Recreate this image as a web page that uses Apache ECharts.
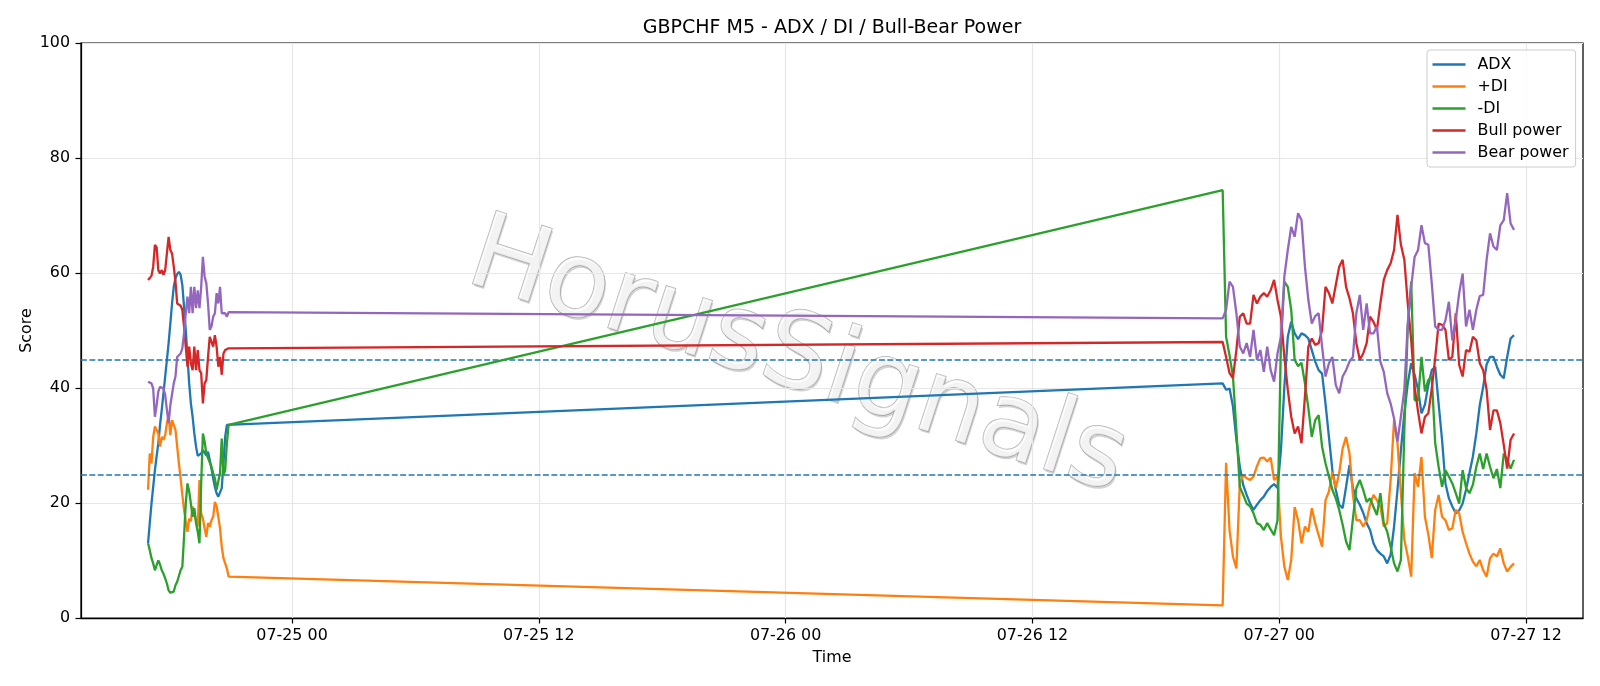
<!DOCTYPE html>
<html>
<head>
<meta charset="utf-8">
<script src="https://cdn.jsdelivr.net/npm/echarts@6/dist/echarts.min.js"></script>
<style>
html,body{margin:0;padding:0;background:#fff;}
#chart{width:1600px;height:686px;}
</style>
</head>
<body>
<div id="chart"></div>
<script>
// ---------------- data ----------------
const YEAR = 2025;
const SERIES_NAMES = ['ADX', '+DI', '-DI', 'Bull power', 'Bear power'];
const X_TICK_LABELS = ['07-25 00', '07-25 12', '07-26 00', '07-26 12', '07-27 00', '07-27 12'];
const Y_TICKS = [0, 20, 40, 60, 80, 100];
const THRESHOLDS = [45, 25];

// session 1: 07-24 17:00, 5-minute bars
const SEG1_START = '07-24 17:00';
const SEG1_STEP_MIN = 5;
// session 2: 07-26 21:15, read every 10 minutes
const SEG2_START = '07-26 21:15';
const SEG2_STEP_MIN = 10;

const ADX_1 = [13, 16.5, 19.9, 22.8, 25.7, 28.1, 30.4, 33.6, 36.2, 39.1, 42, 44.9, 47.8, 51.2, 54.7, 57.6, 59.1, 59.8, 60.2, 59.7, 57.9, 54.1, 50.1, 45.4, 40.8, 37.3, 35, 32.1, 29.8, 28.2, 28.1, 28.6, 29.2, 29.2, 28.3, 28.9, 27.5, 26, 24.3, 22.8, 21.7, 21.1, 20.8, 22.6, 26.9, 31.5, 33.6, 33.9];
const PDI_1 = [22.3, 28.6, 26.9, 31.5, 33.3, 33, 32.1, 29.8, 31.5, 31, 31.8, 33.9, 35.3, 31.8, 34.4, 34.7, 32.7, 29.8, 26.9, 24.3, 21.4, 18.8, 16.8, 15, 17.3, 16.8, 19.4, 19.7, 17, 15.9, 24, 18.2, 17.3, 15.6, 14.1, 16.5, 15.9, 17, 17.6, 20.2, 19.4, 17.6, 15.6, 12.4, 10.4, 9.5, 8.6, 7.2];
const MDI_1 = [13, 11.8, 10.4, 9.5, 8.3, 9.2, 10, 9.3, 8.3, 7.7, 6.9, 6, 4.8, 4.4, 4.2, 4.6, 5.7, 6.3, 6.6, 8.3, 8.9, 14.1, 19.9, 23.4, 22, 19.9, 17.6, 19.1, 16.5, 15, 13, 23.4, 32.1, 30.7, 28.6, 27.8, 28.1, 26.3, 25.2, 24.3, 22.3, 22.5, 25.2, 31.2, 24.9, 25.7, 30.4, 33.6];
const BULL_1 = [58.8, 59.1, 59.5, 61.1, 64.9, 64.5, 60.5, 59.9, 60.5, 59.7, 60.5, 63.4, 66.3, 64, 63.4, 61.1, 58.5, 54.7, 54.4, 54.3, 53.6, 50.7, 47.2, 43.7, 47.2, 44.3, 43.1, 47.2, 43.1, 46.6, 43.1, 42.6, 37.3, 40.8, 41.4, 45.4, 48.9, 49.2, 47.2, 49.2, 47.2, 43.7, 45.4, 42.3, 46, 46.6, 46.6, 46.9];
const BEAR_1 = [41.1, 40.9, 40.8, 39.9, 35, 37, 39.4, 40.2, 40.1, 39.9, 38.8, 36.2, 33.9, 37, 37.3, 40.8, 42, 45.4, 45.7, 46, 46.9, 49.5, 53, 55.9, 53, 57.6, 53, 57.6, 53.9, 57, 53.9, 57.6, 62.8, 59.4, 58.2, 54.7, 50.1, 50.7, 52.4, 53, 56.5, 54.7, 57.6, 53, 53, 53, 52.4, 53.2];

const ADX_2 = [40.8, 39.7, 39.9, 36.8, 31, 26.3, 23.1, 21.4, 19.9, 18.8,
  19.7, 20.5, 21.1, 22.1, 22.8, 23.3, 22.6, 29.2, 40.2, 48.9,
  51.5, 49.5, 48.5, 49.5, 49.2, 48.6, 46.6, 44.6, 43.1, 42.5,
  37.3, 31.5, 25.7, 22.3, 19.7, 19.1, 22.8, 26.6, 22.6, 20.8,
  19.7, 18.3, 16.5, 15.3, 13, 11.8, 11.2, 10.7, 9.5, 11,
  15.9, 22.3, 29.2, 35.6, 40.8, 44.3, 42.3, 39.7, 35.6, 37.1,
  40.5, 43.1, 43.7, 37.3, 31, 23.4, 20.8, 19.4, 18.2, 18.7,
  19.9, 22.3, 25.2, 28.1, 32.1, 37, 40.2, 44.1, 45.4, 45.4,
  43.7, 42.3, 41.7, 45.4, 48.6, 49.2];
const PDI_2 = [2.2, 27, 15.3, 10.7, 8.6, 23.4, 24.9, 24.3, 24, 24.6,
  26.4, 27.8, 27.9, 27.2, 27.9, 24, 24.6, 14.1, 8.9, 6.6,
  10.1, 19.3, 17, 13, 15.9, 15, 19.1, 16.5, 14.4, 12.4,
  20.5, 22, 25.4, 22.6, 25.2, 29.5, 31.5, 28.6, 21.4, 17,
  17, 15.9, 17, 19.7, 21.4, 20.5, 19.4, 15.9, 16.5, 24,
  34.4, 30.4, 21.7, 13.6, 10.7, 7.2, 25.2, 22.8, 28, 17.6,
  14.5, 10.4, 18.8, 21.4, 17.6, 17, 15.3, 15.6, 18.8, 18.2,
  15, 13, 11.2, 9.8, 9, 10.1, 8.3, 7.2, 10.4, 11.2,
  10.7, 12.1, 9.5, 8.1, 8.9, 9.5];
const MDI_2 = [74.4, 48.9, 45.7, 42, 32.7, 22.8, 21.4, 19.9, 19.4, 18.2,
  16.5, 16.2, 15.3, 16.5, 15.4, 14.4, 17, 47.8, 58.5, 57.6,
  53.6, 44.9, 43.8, 44.4, 40.8, 36.5, 31.5, 34.4, 35.3, 29.8,
  26.9, 24.6, 22.3, 20.8, 18.8, 16.2, 13.3, 11.8, 17.3, 22.6,
  24, 22.3, 20.2, 20.8, 19.3, 17.9, 21.7, 16.5, 15, 12.4,
  9.5, 8.1, 10.1, 32.7, 50.7, 58.5, 37.9, 37.9, 45.4, 39.4,
  41.4, 42, 30.4, 26.3, 22.8, 25.7, 24.6, 23.4, 21.7, 19.9,
  25.7, 22.6, 21.7, 23.2, 26.3, 28.6, 25.9, 28.6, 26.3, 24.3,
  25.9, 22.6, 28.6, 27.5, 26, 27.5];
const BULL_2 = [48, 45.4, 42.6, 41.7, 46.6, 52.4, 53, 51.2, 51.2, 56.2,
  54.7, 55.9, 56.5, 55.9, 57, 58.8, 55.3, 52.4, 45.4, 39.7,
  35, 32.1, 33.3, 30.4, 38.5, 47.2, 48.6, 47.5, 47.8, 50.1,
  57.6, 56.5, 54.7, 57.9, 61.1, 62.3, 57.6, 55.6, 53, 47.8,
  44.9, 46, 47.8, 52.4, 51.5, 50.1, 54.7, 58.8, 60.5, 61.7,
  64, 70.1, 64.9, 62.3, 54.7, 48.3, 40.2, 35.9, 32.1, 35,
  35.6, 39.9, 45.2, 51.2, 51, 50.1, 44.9, 45.4, 53, 44,
  42, 46.6, 46.3, 48.9, 48.3, 44.3, 43.1, 39.7, 32.7, 36.1,
  36.1, 33.9, 30.1, 26, 31, 32.1];
const BEAR_2 = [52.1, 53.6, 58.5, 57.6, 53, 47.2, 46, 47.8, 45.4, 50.1,
  44.9, 46.6, 42.8, 47.2, 43.1, 41.1, 46, 48.9, 59.4, 64,
  68, 66.3, 70.4, 69.2, 61.1, 55.3, 51.2, 52.5, 53, 47.2,
  42, 44.3, 45.4, 40.5, 39.1, 42, 43.1, 44.6, 45.4, 53,
  56.2, 50.1, 54.7, 49.5, 49.5, 50.7, 44.6, 42.8, 39.1, 37.3,
  34.7, 30.7, 35, 39.7, 51.2, 57.6, 62.8, 64, 68.3, 65.2,
  64.9, 58.2, 50.7, 50.1, 50.1, 51.8, 55, 48.3, 51.8, 56.5,
  59.9, 50.7, 53.6, 50.1, 53.6, 56, 56.2, 62.3, 66.9, 64.6,
  64, 68.3, 69.2, 73.9, 68.6, 67.5];

// ---------------- helpers ----------------
function parseStamp(s) { // 'MM-DD HH' or 'MM-DD HH:MM'
  const [md, hm] = s.split(' ');
  const [mm, dd] = md.split('-').map(Number);
  const [hh, mi] = hm.split(':').map(Number);
  return Date.UTC(YEAR, mm - 1, dd, hh, mi || 0);
}
function pad(n) { return (n < 10 ? '0' : '') + n; }
function fmt(v) {
  const d = new Date(v);
  return pad(d.getUTCMonth() + 1) + '-' + pad(d.getUTCDate()) + ' ' + pad(d.getUTCHours());
}
function times(start, step, n) {
  const t0 = parseStamp(start), out = [];
  for (let i = 0; i < n; i++) out.push(t0 + i * step * 60000);
  return out;
}
const TIMES = times(SEG1_START, SEG1_STEP_MIN, ADX_1.length).concat(times(SEG2_START, SEG2_STEP_MIN, ADX_2.length));
const VALUES = [ADX_1.concat(ADX_2), PDI_1.concat(PDI_2), MDI_1.concat(MDI_2), BULL_1.concat(BULL_2), BEAR_1.concat(BEAR_2)];
const COLORS = ['#1f77b4', '#ff7f0e', '#2ca02c', '#d62728', '#9467bd'];
const xTickValues = X_TICK_LABELS.map(parseStamp);
const HOUR = 3600000;
const X0 = parseStamp('07-25 00');
const X_MIN = X0 - 10.26 * HOUR;
const X_MAX = X0 + 62.77 * HOUR;

const FONT = 'DejaVu Sans';
const FS = 15.9;
const chart = echarts.init(document.getElementById('chart'), null, {renderer: 'canvas'});

const series = SERIES_NAMES.map((name, k) => {
  const s = {
    name: name,
    type: 'line',
    data: TIMES.map((t, i) => [t, VALUES[k][i]]),
    showSymbol: false,
    symbol: 'none',
    lineStyle: {width: 2.3, color: COLORS[k]},
    itemStyle: {color: COLORS[k]},
    animation: false,
    z: 3 + k
  };
  if (k === 0) {
    s.markLine = {
      silent: true,
      symbol: ['none', 'none'],
      label: {show: false},
      lineStyle: {color: '#1f77b4', type: [5.9, 2.5], width: 1.5},
      data: THRESHOLDS.map(v => ({yAxis: v})),
      animation: false
    };
  }
  return s;
});

const option = {
  backgroundColor: '#ffffff',
  animation: false,
  textStyle: {fontFamily: FONT},
  grid: {left: 81, right: 17, top: 43, bottom: 68, show: true, borderColor: '#000', borderWidth: 1.25, backgroundColor: 'transparent'},
  xAxis: {
    type: 'value',
    min: X_MIN, max: X_MAX,
    name: 'Time', nameLocation: 'middle', nameGap: 32, nameMoveOverlap: false,
    nameTextStyle: {fontFamily: FONT, fontSize: FS, color: '#000'},
    axisLine: {show: true, onZero: false, lineStyle: {color: '#000', width: 1.25}},
    axisTick: {show: true, length: 5.5, lineStyle: {color: '#000', width: 1.2}, customValues: xTickValues},
    axisLabel: {customValues: xTickValues, formatter: fmt, fontFamily: FONT, fontSize: FS, color: '#000', margin: 10},
    splitLine: {show: true, lineStyle: {color: '#e6e6e6', width: 1.2}}
  },
  yAxis: {
    type: 'value', min: Y_TICKS[0], max: Y_TICKS[Y_TICKS.length - 1], interval: Y_TICKS[1] - Y_TICKS[0],
    name: 'Score', nameLocation: 'middle', nameGap: 46, nameRotate: 90, nameMoveOverlap: false,
    nameTextStyle: {fontFamily: FONT, fontSize: FS, color: '#000'},
    axisLine: {show: true, lineStyle: {color: '#000', width: 1.25}},
    axisTick: {show: true, length: 5.5, lineStyle: {color: '#000', width: 1.2}},
    axisLabel: {fontFamily: FONT, fontSize: FS, color: '#000', margin: 11},
    splitLine: {show: true, lineStyle: {color: '#e6e6e6', width: 1.2}}
  },
  legend: {
    data: SERIES_NAMES,
    orient: 'vertical',
    left: 1427, top: 50,
    icon: 'rect', itemWidth: 33, itemHeight: 2.3, itemGap: 4,
    padding: [5.5, 7, 5.5, 5.5],
    backgroundColor: 'rgba(255,255,255,0.8)',
    borderColor: '#cccccc', borderWidth: 1, borderRadius: 3,
    textStyle: {fontFamily: FONT, fontSize: FS, color: '#000', lineHeight: 18, padding: [0, 0, 0, 7]},
    selectedMode: false
  },
  graphic: [
    {
      type: 'text', x: 832, y: 28, z: 50,
      style: {text: 'GBPCHF M5 - ADX / DI / Bull-Bear Power', font: '19px "DejaVu Sans"', fill: '#000', textAlign: 'center', textVerticalAlign: 'middle'}
    },
    {
      type: 'group', x: 797, y: 360, rotation: -18 * Math.PI / 180, z: 100, silent: true,
      children: [
        {type: 'text', x: 2, y: 2, style: {text: 'HorusSignals', font: '105px "DejaVu Sans"', fill: 'rgba(110,110,110,0.3)', textAlign: 'center', textVerticalAlign: 'middle'}},
        {type: 'text', x: 0, y: 0, style: {text: 'HorusSignals', font: '105px "DejaVu Sans"', fill: 'rgba(255,255,255,0.72)', stroke: 'rgba(130,130,130,0.62)', lineWidth: 1.4, textAlign: 'center', textVerticalAlign: 'middle'}}
      ]
    }
  ],
  series: series
};
chart.setOption(option);
</script>
</body>
</html>
